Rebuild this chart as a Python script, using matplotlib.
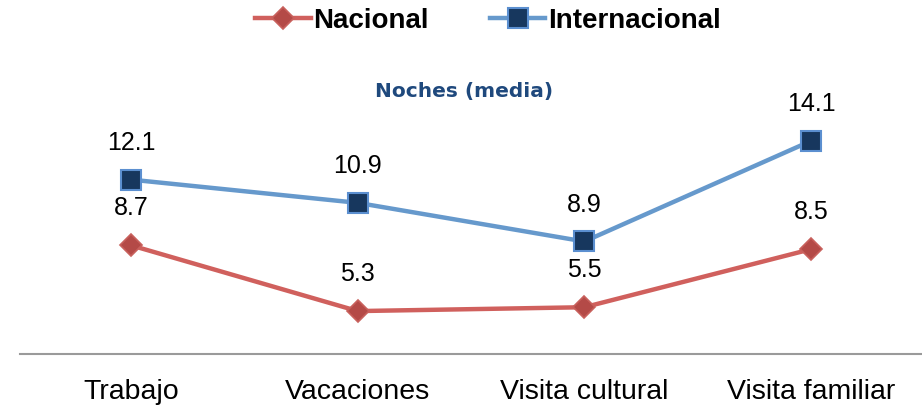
import matplotlib
matplotlib.use("Agg")
import matplotlib.pyplot as plt

categories = ["Trabajo", "Vacaciones", "Visita cultural", "Visita familiar"]
nacional = [8.7, 5.3, 5.5, 8.5]
internacional = [12.1, 10.9, 8.9, 14.1]
title = "Noches (media)"

fig = plt.figure(figsize=(9.22, 4.08), dpi=100)
ax = fig.add_axes([20/922, 54/408, 902/922, 254/408])
x = list(range(len(categories)))

ax.plot(x, nacional, color="#D0605D", lw=3.2, marker="D", ms=11,
        mfc="#B44A47", mec="#C8605C", mew=1.2, label="Nacional", zorder=3)
ax.plot(x, internacional, color="#6699CC", lw=3.2, marker="s", ms=14,
        mfc="#17375E", mec="#5B8FD0", mew=1.5, label="Internacional", zorder=3)

for xi, v in zip(x, nacional):
    ax.annotate(f"{v:.1f}", (xi, v), xytext=(0, 27), textcoords="offset points",
                ha="center", va="center", fontsize=18, family="Liberation Sans")
for xi, v in zip(x, internacional):
    ax.annotate(f"{v:.1f}", (xi, v), xytext=(0, 26.5), textcoords="offset points",
                ha="center", va="center", fontsize=18, family="Liberation Sans")

ax.set_xlim(-0.49, 3.49)
ax.set_ylim(3.08, 16.22)
ax.set_xticks(x)
ax.set_xticklabels(categories, fontsize=20.5, family="Liberation Sans")
ax.tick_params(axis="x", length=0, pad=18)
ax.set_yticks([])
for s in ["top", "right", "left"]:
    ax.spines[s].set_visible(False)
ax.spines["bottom"].set_color("#9A9A9A")
ax.spines["bottom"].set_linewidth(1.5)

fig.text(464/922, 1 - 91/408, title, ha="center", va="center",
         fontsize=14.5, fontweight="bold", color="#1F497D", family="DejaVu Sans")

fig.legend(loc="center", bbox_to_anchor=(488/922, 1 - 21/408), ncol=2, frameon=False,
           prop={"family": "Liberation Sans", "weight": "bold", "size": 20},
           handlelength=2.0, handletextpad=0.1, columnspacing=2.2)

fig.savefig("out.png", dpi=100)
